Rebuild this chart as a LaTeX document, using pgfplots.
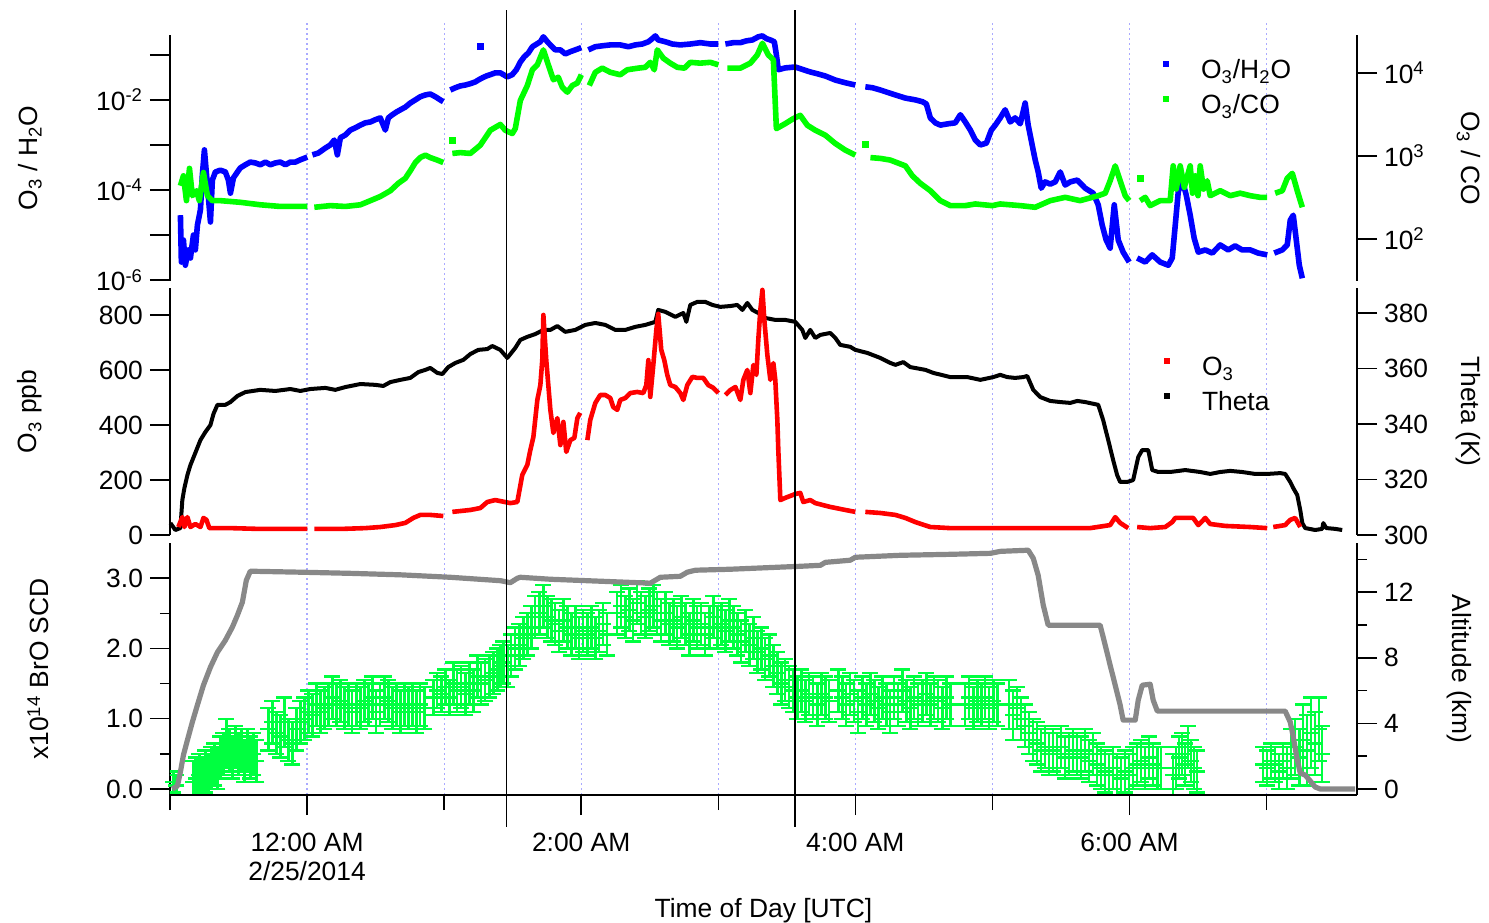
\documentclass[border=0pt]{standalone}
\usepackage{fontspec}
\setmainfont{Liberation Sans}
\usepackage{pgfplots}
\pgfplotsset{compat=1.18}

\definecolor{o3blue}{RGB}{0,0,255}
\definecolor{cogreen}{RGB}{0,255,0}
\definecolor{brogreen}{RGB}{0,255,64}
\definecolor{gridblue}{RGB}{170,170,255}
\definecolor{altgray}{RGB}{136,136,136}
\newcommand{\fs}{\fontsize{13.2}{14.5}\selectfont}

\pgfplotsset{
  panel/.style={
    scale only axis, width=593.5pt, xmin=-1, xmax=7.66,
    axis x line=none, anchor=south west,
    major tick length=10pt, minor tick length=5pt,
    tick style={black, line width=0.75pt},
    tick label style={font=\fs}, label style={font=\fs},
    unbounded coords=jump, clip=false,
  },
  leftax/.style={panel, axis y line=left, tick align=outside,
    axis line style={-, line width=1pt},
    every axis y label/.style={at={(axis description cs:-0.118,0.5)}, rotate=90, anchor=center, font=\fs}},
  rightax/.style={panel, axis y line=right, tick align=outside,
    axis line style={-, line width=1pt},
    every axis y label/.style={at={(axis description cs:1.094,0.5)}, rotate=-90, anchor=center, font=\fs}},
  sqlegend/.style={legend cell align=left,
    legend style={draw=none, fill=none, inner sep=0pt, outer sep=0pt, row sep=1.5pt,
      anchor=north west, font=\fs,
      nodes={inner sep=1pt, text height=10pt, text depth=4pt}},
    legend image code/.code={\fill[##1, draw=none] (0pt,3pt) rectangle (3pt,6pt);
      \path[draw=none, fill=none] (0pt,0pt) -- (18pt,0pt);}},
}

\begin{document}
\begin{tikzpicture}
\path[use as bounding box] (0,0) rectangle (744.5pt,461pt);

% hourly grid, common to the three panels
\begin{axis}[scale only axis, width=593.5pt, height=387pt, at={(85pt,63.5pt)}, anchor=south west,
  xmin=-1, xmax=7.66, ymin=0, ymax=1, xtick={0,...,7}, xticklabels={}, major tick length=0pt,
  ytick=\empty, axis line style={draw=none}, xmajorgrids,
  major grid style={gridblue, line width=0.6pt, dash pattern=on 1pt off 1.5pt}, clip=false]
  \coordinate (vt1) at (axis cs:1.454,1.0142);
  \coordinate (vb1) at (axis cs:1.454,-0.0413);
  \coordinate (vt2) at (axis cs:3.559,1.0142);
  \coordinate (vb2) at (axis cs:3.559,-0.0413);
\end{axis}

% ---------- top panel: O3/H2O (left, log) ----------
\begin{axis}[leftax, height=123pt, at={(85pt,320.5pt)},
  ymin=-6.02, ymax=-0.56, ytick={-6,-4,-2},
  yticklabels={10\textsuperscript{-6},10\textsuperscript{-4},10\textsuperscript{-2}},
  extra y ticks={-5,-3,-1}, extra y tick labels={},
  ylabel={O\textsubscript{3} / H\textsubscript{2}O}]
\addplot[o3blue, line width=2.8pt, line join=round] coordinates {
(-0.924,-4.56) (-0.917,-5.60) (-0.902,-5.11) (-0.888,-5.67) (-0.866,-5.33) (-0.851,-5.51)
(-0.829,-5.00) (-0.815,-5.33) (-0.800,-4.78) (-0.778,-4.44) (-0.764,-3.67) (-0.749,-3.11)
(-0.727,-3.89) (-0.705,-4.71) (-0.691,-3.78) (-0.669,-3.60) (-0.632,-3.56) (-0.596,-3.60)
(-0.574,-3.78) (-0.559,-4.07) (-0.537,-3.73) (-0.508,-3.60) (-0.487,-3.51) (-0.450,-3.44)
(-0.414,-3.38) (-0.377,-3.40) (-0.341,-3.44) (-0.304,-3.38) (-0.268,-3.44) (-0.231,-3.40)
(-0.195,-3.38) (-0.158,-3.44) (-0.122,-3.38) (-0.085,-3.38) (-0.049,-3.33) (0.002,-3.27)
(0.02,nan)
(0.039,-3.22) (0.082,-3.18) (0.133,-3.07) (0.170,-3.00) (0.199,-2.89) (0.221,-3.22)
(0.243,-2.84) (0.279,-2.78) (0.316,-2.67) (0.352,-2.62) (0.389,-2.56) (0.425,-2.51)
(0.462,-2.49) (0.498,-2.44) (0.534,-2.40) (0.571,-2.67) (0.593,-2.40) (0.622,-2.33)
(0.652,-2.27) (0.681,-2.22) (0.717,-2.16) (0.753,-2.07) (0.790,-2.00) (0.826,-1.93)
(0.863,-1.89) (0.899,-1.87) (0.936,-1.93) (0.972,-2.00) (0.994,-2.04)
(1.02,nan)
(1.045,-1.78) (1.082,-1.73) (1.118,-1.69) (1.155,-1.67) (1.191,-1.64) (1.228,-1.60)
(1.249,-1.56) (1.279,-1.51) (1.308,-1.47) (1.337,-1.44) (1.373,-1.40) (1.410,-1.40)
(1.461,-1.49) (1.497,-1.44) (1.527,-1.33) (1.556,-1.16) (1.585,-1.04) (1.614,-0.96)
(1.644,-0.82) (1.665,-0.78) (1.702,-0.71) (1.724,-0.60) (1.753,-0.71) (1.775,-0.78)
(1.811,-0.89) (1.848,-0.89) (1.884,-0.98) (1.921,-0.93) (1.957,-0.89) (2.001,-0.84)
(2.02,nan)
(2.052,-0.89) (2.103,-0.82) (2.154,-0.80) (2.212,-0.78) (2.285,-0.78) (2.344,-0.82)
(2.395,-0.78) (2.446,-0.76) (2.490,-0.71) (2.519,-0.64) (2.541,-0.58) (2.562,-0.67)
(2.614,-0.71) (2.665,-0.76) (2.723,-0.78) (2.796,-0.76) (2.869,-0.73) (2.942,-0.76)
(3.001,-0.76)
(3.02,nan)
(3.052,-0.76) (3.110,-0.73) (3.161,-0.73) (3.205,-0.69) (3.249,-0.67) (3.292,-0.60)
(3.322,-0.58) (3.351,-0.64) (3.380,-0.67) (3.409,-0.71) (3.424,-1.00) (3.438,-1.33)
(3.489,-1.29) (3.562,-1.27) (3.620,-1.33) (3.671,-1.38) (3.723,-1.42) (3.781,-1.47)
(3.854,-1.56) (3.927,-1.62) (4.000,-1.67)
(4.03,nan)
(4.073,-1.71) (4.124,-1.73) (4.182,-1.78) (4.241,-1.84) (4.292,-1.89) (4.365,-1.96)
(4.438,-2.00) (4.489,-2.04) (4.518,-2.09) (4.547,-2.40) (4.584,-2.51) (4.620,-2.56)
(4.678,-2.53) (4.729,-2.51) (4.766,-2.33) (4.802,-2.49) (4.839,-2.67) (4.875,-2.89)
(4.912,-3.00) (4.956,-2.96) (4.992,-2.67) (5.021,-2.56) (5.057,-2.40) (5.093,-2.22)
(5.130,-2.49) (5.166,-2.40) (5.203,-2.53) (5.239,-2.07) (5.261,-2.56) (5.290,-3.00)
(5.312,-3.33) (5.334,-3.60) (5.356,-3.96) (5.385,-3.82) (5.422,-3.87) (5.458,-3.82)
(5.495,-3.60) (5.531,-3.89) (5.568,-3.82) (5.619,-3.78) (5.677,-3.96) (5.735,-4.07)
(5.772,-4.33) (5.801,-4.78) (5.830,-5.11) (5.859,-5.29) (5.889,-4.33) (5.918,-5.11)
(5.954,-5.38) (5.998,-5.60)
(6.03,nan)
(6.056,-5.51) (6.115,-5.60) (6.166,-5.44) (6.224,-5.60) (6.283,-5.67) (6.312,-5.51)
(6.334,-4.78) (6.356,-4.04) (6.385,-3.78) (6.414,-4.11) (6.443,-4.56) (6.472,-5.07)
(6.502,-5.38) (6.553,-5.33) (6.604,-5.40) (6.662,-5.22) (6.720,-5.33) (6.771,-5.24)
(6.822,-5.33) (6.881,-5.33) (6.939,-5.40) (7.005,-5.44)
(7.03,nan)
(7.056,-5.40) (7.115,-5.33) (7.151,-5.22) (7.173,-4.67) (7.195,-4.56) (7.217,-5.11)
(7.239,-5.67) (7.261,-5.96)
};
\addplot[o3blue, only marks, mark=square*, mark size=1.5pt] coordinates {(1.264,-0.82)};
\end{axis}

% ---------- top panel: O3/CO (right, log) ----------
\begin{axis}[rightax, sqlegend, height=123pt, at={(85pt,320.5pt)},
  ymin=1.49, ymax=4.46, ytick={2,3,4},
  yticklabels={10\textsuperscript{2},10\textsuperscript{3},10\textsuperscript{4}},
  ylabel={O\textsubscript{3} / CO},
  legend style={at={(0.8366,0.9106)}}]
\addlegendimage{o3blue}\addlegendentry{O\textsubscript{3}/H\textsubscript{2}O}
\addlegendimage{cogreen}\addlegendentry{O\textsubscript{3}/CO}
\addplot[forget plot, cogreen, line width=2.8pt, line join=round] coordinates {
(-0.924,2.64) (-0.902,2.76) (-0.880,2.46) (-0.858,2.85) (-0.837,2.52) (-0.807,2.58)
(-0.786,2.46) (-0.756,2.80) (-0.727,2.52) (-0.691,2.46) (-0.632,2.46) (-0.487,2.44)
(-0.341,2.41) (-0.195,2.39) (0.002,2.39)
(0.02,nan)
(0.053,2.38) (0.170,2.40) (0.279,2.39) (0.389,2.41) (0.462,2.46) (0.534,2.51)
(0.608,2.58) (0.666,2.67) (0.717,2.73) (0.753,2.82) (0.790,2.92) (0.826,2.98)
(0.863,3.01) (0.899,2.98) (0.950,2.95) (0.994,2.92)
(1.02,nan)
(1.060,3.03) (1.118,3.04) (1.191,3.03) (1.264,3.13) (1.337,3.31) (1.410,3.38)
(1.446,3.31) (1.497,3.27) (1.519,3.33) (1.556,3.67) (1.607,3.85) (1.644,4.04)
(1.680,4.10) (1.724,4.28) (1.760,4.10) (1.797,3.92) (1.833,3.95) (1.862,3.83)
(1.899,3.77) (1.935,3.85) (1.972,3.88) (2.001,3.98)
(2.02,nan)
(2.059,3.85) (2.103,4.01) (2.154,4.06) (2.212,4.01) (2.285,3.98) (2.336,4.04)
(2.416,4.06) (2.468,4.07) (2.504,4.13) (2.533,4.04) (2.555,4.28) (2.599,4.18)
(2.650,4.12) (2.701,4.07) (2.753,4.06) (2.796,4.13) (2.869,4.12) (2.942,4.13)
(3.001,4.10)
(3.02,nan)
(3.066,4.06) (3.161,4.06) (3.234,4.12) (3.285,4.22) (3.322,4.36) (3.365,4.22)
(3.402,4.16) (3.424,3.33) (3.489,3.39) (3.547,3.45) (3.598,3.49) (3.650,3.37)
(3.708,3.31) (3.781,3.25) (3.854,3.15) (3.927,3.07) (4.000,3.01)
(4.03,nan)
(4.110,2.98) (4.182,2.97) (4.255,2.95) (4.365,2.88) (4.416,2.76) (4.474,2.67)
(4.547,2.58) (4.620,2.46) (4.693,2.40) (4.802,2.40) (4.875,2.42) (4.999,2.40)
(5.057,2.42) (5.130,2.41) (5.203,2.40) (5.312,2.38) (5.422,2.46) (5.531,2.50)
(5.640,2.46) (5.772,2.52) (5.823,2.55) (5.859,2.70) (5.896,2.88) (5.932,2.70)
(5.969,2.52) (5.998,2.46)
(6.03,nan)
(6.078,2.46) (6.115,2.50) (6.151,2.40) (6.224,2.46) (6.297,2.46) (6.319,2.88)
(6.341,2.60) (6.370,2.88) (6.400,2.62) (6.443,2.88) (6.460,2.55) (6.480,2.76)
(6.500,2.52) (6.516,2.88) (6.540,2.60) (6.567,2.70) (6.589,2.52) (6.662,2.58)
(6.735,2.52) (6.808,2.55) (6.881,2.52) (6.954,2.50) (7.005,2.50)
(7.03,nan)
(7.063,2.55) (7.115,2.58) (7.151,2.73) (7.188,2.79) (7.224,2.58) (7.246,2.46)
(7.261,2.38)
};
\addplot[forget plot, cogreen, only marks, mark=square*, mark size=1.5pt] coordinates {
(1.060,3.19) (4.073,3.14) (6.078,2.73)};
\end{axis}

% ---------- middle panel: Theta (right) ----------
\begin{axis}[rightax, height=123.5pt, at={(85pt,193.5pt)},
  ymin=300, ymax=389, ytick={300,320,340,360,380},
  yticklabels={300,320,340,360,380}, ylabel={Theta (K)}]
\addplot[black, line width=2pt, line join=round] coordinates {
(-0.997,304.3) (-0.961,301.8) (-0.924,302.5) (-0.910,312.6) (-0.895,316.9) (-0.873,321.6)
(-0.851,325.2) (-0.815,329.6) (-0.778,334.2) (-0.742,337.1) (-0.705,339.6) (-0.683,343.6)
(-0.654,346.9) (-0.596,346.9) (-0.559,347.9) (-0.508,350.1) (-0.450,351.5) (-0.341,352.3)
(-0.231,351.9) (-0.122,352.6) (-0.049,351.9) (0.024,352.6) (0.133,353.0) (0.206,352.3)
(0.279,353.3) (0.389,354.4) (0.498,354.1) (0.556,353.7) (0.608,355.1) (0.681,355.9)
(0.753,356.6) (0.812,358.7) (0.863,359.5) (0.899,360.2) (0.950,358.4) (0.987,358.0)
(1.030,360.5) (1.082,362.0) (1.140,363.1) (1.191,365.2) (1.249,366.7) (1.315,367.0)
(1.351,368.1) (1.410,366.7) (1.461,363.8) (1.519,367.4) (1.556,370.3) (1.607,371.4)
(1.665,372.4) (1.724,373.9) (1.775,373.9) (1.826,375.3) (1.884,373.2) (1.957,373.9)
(2.030,375.7) (2.103,376.4) (2.176,375.7) (2.249,373.9) (2.322,373.9) (2.395,375.0)
(2.468,375.7) (2.541,376.8) (2.562,381.1) (2.614,380.4) (2.687,378.6) (2.745,380.0)
(2.767,376.8) (2.796,382.9) (2.847,384.0) (2.905,384.0) (2.957,382.9) (3.015,382.2)
(3.088,382.5) (3.139,382.9) (3.176,381.1) (3.212,383.6) (3.249,381.1) (3.292,380.0)
(3.343,378.2) (3.416,377.5) (3.489,377.5) (3.562,376.8) (3.613,373.9) (3.635,371.0)
(3.671,373.9) (3.708,371.0) (3.745,372.1) (3.817,372.8) (3.854,371.0) (3.890,368.5)
(3.963,367.8) (4.000,366.7) (4.088,365.6) (4.182,363.8) (4.255,362.0) (4.292,361.3)
(4.350,362.3) (4.401,360.5) (4.511,359.5) (4.569,358.4) (4.693,356.9) (4.817,356.9)
(4.912,355.9) (5.007,356.9) (5.057,357.7) (5.108,356.9) (5.166,356.6) (5.225,356.9)
(5.254,357.3) (5.298,352.3) (5.349,349.7) (5.422,348.3) (5.495,347.9) (5.568,347.6)
(5.619,348.3) (5.677,347.9) (5.772,346.9) (5.808,341.4) (5.845,334.2) (5.881,327.0)
(5.910,321.6) (5.932,319.1) (5.983,319.1) (6.027,319.8) (6.064,328.1) (6.093,330.6)
(6.137,330.6) (6.166,323.4) (6.210,322.7) (6.297,322.7) (6.407,323.4) (6.516,322.7)
(6.589,322.0) (6.662,322.7) (6.735,323.1) (6.822,322.7) (6.917,322.0) (7.005,322.0)
(7.100,322.3) (7.136,322.0) (7.173,319.1) (7.195,316.9) (7.224,314.4) (7.246,309.0)
(7.261,304.3) (7.282,302.5) (7.355,301.8) (7.406,302.2) (7.414,304.3) (7.436,302.5)
(7.501,302.2) (7.552,301.8)
};
\end{axis}

% ---------- middle panel: O3 ppb (left) ----------
\begin{axis}[leftax, sqlegend, height=123.5pt, at={(85pt,193.5pt)},
  ymin=0, ymax=898, ytick={0,200,400,600,800},
  yticklabels={0,200,400,600,800}, ylabel={O\textsubscript{3} ppb},
  legend style={at={(0.8374,0.7328)}}]
\addlegendimage{red}\addlegendentry{O\textsubscript{3}}
\addlegendimage{black}\addlegendentry{Theta}
\addplot[forget plot, red, line width=2.3pt, line join=round] coordinates {
(-0.939,29) (-0.910,65) (-0.895,29) (-0.873,65) (-0.851,29) (-0.815,40) (-0.778,29)
(-0.756,62) (-0.734,55) (-0.713,25) (-0.559,25) (-0.341,22) (0.002,22)
(0.02,nan)
(0.053,22) (0.243,22) (0.425,25) (0.534,29) (0.644,36) (0.717,44) (0.775,62)
(0.826,73) (0.899,73) (0.994,69)
(1.02,nan)
(1.060,84) (1.191,91) (1.264,98) (1.315,120) (1.373,127) (1.483,116) (1.534,120)
(1.570,218) (1.607,255) (1.629,309) (1.651,356) (1.680,491) (1.702,545) (1.716,636)
(1.724,800) (1.745,636) (1.775,455) (1.797,371) (1.826,425) (1.848,327) (1.870,411)
(1.891,302) (1.921,345) (1.950,353) (1.972,425) (1.993,444)
(2.01,nan)
(2.045,345) (2.066,418) (2.103,480) (2.139,509) (2.176,509) (2.212,498) (2.234,465)
(2.263,455) (2.285,491) (2.322,498) (2.358,516) (2.409,520) (2.453,516) (2.475,545)
(2.490,636) (2.504,502) (2.526,618) (2.548,745) (2.562,804) (2.584,673) (2.606,636)
(2.628,582) (2.650,545) (2.687,538) (2.723,516) (2.745,491) (2.774,545) (2.811,575)
(2.847,571) (2.891,571) (2.927,545) (2.964,535) (3.001,516)
(3.02,nan)
(3.052,509) (3.088,527) (3.125,538) (3.161,491) (3.183,564) (3.212,600) (3.234,516)
(3.256,618) (3.278,582) (3.292,709) (3.307,818) (3.322,891) (3.336,782) (3.358,655)
(3.380,564) (3.402,625) (3.416,564) (3.431,418) (3.438,309) (3.453,127) (3.489,135)
(3.562,149) (3.598,153) (3.620,120) (3.671,127) (3.708,116) (3.817,102) (3.927,91)
(4.000,84)
(4.03,nan)
(4.073,84) (4.182,80) (4.292,73) (4.365,62) (4.438,47) (4.547,29) (4.693,25)
(4.985,25) (5.422,25) (5.713,25) (5.859,36) (5.896,65) (5.932,44) (5.991,25)
(6.02,nan)
(6.056,29) (6.151,25) (6.261,29) (6.312,47) (6.334,62) (6.407,62) (6.465,62)
(6.502,36) (6.553,62) (6.589,40) (6.698,33) (6.881,29) (7.005,25)
(7.03,nan)
(7.049,29) (7.136,36) (7.173,55) (7.209,62) (7.246,29)
};
\end{axis}

% ---------- bottom panel: BrO SCD (left) ----------
\begin{axis}[leftax, height=126pt, at={(85pt,63.5pt)}, clip=true,
  ymin=-0.085, ymax=3.5, ytick={0,1,2,3}, yticklabels={0.0,1.0,2.0,3.0},
  minor ytick={0.5,1.5,2.5},
  ylabel={x10\textsuperscript{14} BrO SCD},
  every axis y label/.append style={at={(axis description cs:-0.111,0.5)}}]
\addplot[brogreen, only marks, mark=-, mark size=4pt, mark options={line width=1.2pt},
  error bars/.cd, y dir=both, y explicit, error bar style={line width=1.2pt},
  error mark options={rotate=90, mark size=4pt, line width=1.2pt}]
  table[x=x, y=y, y error=e] {
x y e
-0.975 0.10 0.15
-0.953 0.05 0.15
-0.829 0.10 0.30
-0.807 0.15 0.30
-0.786 0.20 0.30
-0.764 0.12 0.30
-0.742 0.25 0.30
-0.720 0.20 0.30
-0.698 0.30 0.30
-0.676 0.35 0.30
-0.654 0.30 0.30
-0.632 0.45 0.30
-0.610 0.50 0.30
-0.589 0.65 0.35
-0.567 0.55 0.30
-0.545 0.45 0.30
-0.523 0.60 0.30
-0.501 0.50 0.30
-0.479 0.55 0.30
-0.457 0.40 0.30
-0.435 0.55 0.30
-0.414 0.45 0.30
-0.392 0.50 0.30
-0.370 0.40 0.30
-0.282 0.85 0.30
-0.253 0.95 0.30
-0.224 0.80 0.30
-0.195 0.75 0.30
-0.166 0.95 0.35
-0.136 0.70 0.30
-0.107 0.65 0.30
-0.078 0.85 0.30
-0.049 0.95 0.30
-0.020 1.00 0.30
0.009 1.10 0.30
0.039 1.05 0.30
0.068 1.20 0.30
0.097 1.10 0.30
0.126 1.15 0.30
0.155 1.20 0.30
0.185 1.30 0.30
0.214 1.20 0.30
0.243 1.25 0.30
0.272 1.15 0.30
0.301 1.20 0.30
0.330 1.10 0.30
0.360 1.20 0.30
0.389 1.15 0.30
0.418 1.25 0.30
0.447 1.20 0.30
0.476 1.30 0.30
0.505 1.10 0.30
0.534 1.20 0.30
0.564 1.30 0.30
0.593 1.25 0.30
0.622 1.15 0.30
0.652 1.20 0.30
0.681 1.10 0.30
0.710 1.20 0.30
0.739 1.15 0.30
0.768 1.20 0.30
0.797 1.10 0.30
0.826 1.20 0.30
0.856 1.15 0.30
0.921 1.30 0.25
0.950 1.40 0.25
0.980 1.35 0.25
1.009 1.45 0.25
1.038 1.30 0.25
1.067 1.50 0.30
1.096 1.40 0.30
1.125 1.45 0.30
1.155 1.35 0.30
1.184 1.50 0.30
1.213 1.40 0.30
1.242 1.60 0.30
1.271 1.50 0.30
1.300 1.55 0.30
1.330 1.60 0.30
1.359 1.65 0.30
1.388 1.70 0.30
1.410 1.75 0.30
1.432 1.80 0.30
1.461 1.75 0.30
1.490 1.90 0.30
1.519 2.00 0.30
1.549 2.05 0.30
1.578 2.15 0.30
1.607 2.20 0.30
1.636 2.30 0.30
1.665 2.45 0.30
1.695 2.50 0.30
1.724 2.60 0.30
1.753 2.45 0.30
1.782 2.40 0.30
1.811 2.35 0.30
1.840 2.25 0.30
1.870 2.40 0.30
1.899 2.30 0.30
1.928 2.20 0.30
1.957 2.30 0.30
1.986 2.15 0.30
2.015 2.25 0.30
2.045 2.20 0.30
2.074 2.30 0.30
2.103 2.15 0.30
2.132 2.25 0.30
2.161 2.35 0.30
2.190 2.20 0.30
2.263 2.50 0.30
2.292 2.60 0.30
2.322 2.45 0.30
2.351 2.55 0.30
2.380 2.40 0.30
2.409 2.65 0.30
2.438 2.50 0.30
2.468 2.45 0.30
2.497 2.55 0.30
2.526 2.60 0.30
2.555 2.50 0.30
2.584 2.40 0.30
2.614 2.50 0.30
2.643 2.35 0.30
2.672 2.40 0.30
2.701 2.30 0.30
2.731 2.45 0.30
2.760 2.35 0.30
2.789 2.20 0.30
2.818 2.40 0.30
2.847 2.30 0.30
2.876 2.35 0.30
2.905 2.20 0.30
2.935 2.30 0.30
2.964 2.45 0.30
2.993 2.30 0.30
3.023 2.35 0.30
3.052 2.25 0.30
3.081 2.40 0.30
3.110 2.30 0.30
3.139 2.20 0.30
3.168 2.10 0.30
3.198 2.25 0.30
3.227 2.05 0.30
3.256 2.15 0.30
3.285 1.95 0.30
3.314 2.00 0.30
3.343 1.85 0.30
3.373 1.90 0.30
3.402 1.75 0.30
3.431 1.65 0.30
3.460 1.50 0.30
3.489 1.55 0.30
3.518 1.45 0.30
3.547 1.40 0.30
3.577 1.30 0.30
3.606 1.40 0.30
3.635 1.25 0.30
3.664 1.35 0.30
3.693 1.30 0.30
3.723 1.20 0.30
3.752 1.35 0.30
3.781 1.30 0.30
3.810 1.25 0.30
3.876 1.40 0.30
3.905 1.30 0.30
3.934 1.20 0.30
3.963 1.35 0.30
3.992 1.25 0.30
4.021 1.10 0.30
4.051 1.30 0.30
4.080 1.20 0.30
4.110 1.35 0.30
4.139 1.25 0.30
4.168 1.15 0.30
4.197 1.30 0.30
4.226 1.20 0.30
4.255 1.10 0.30
4.284 1.30 0.30
4.313 1.20 0.30
4.343 1.40 0.30
4.372 1.25 0.30
4.401 1.15 0.30
4.430 1.30 0.30
4.459 1.20 0.30
4.489 1.25 0.30
4.518 1.35 0.30
4.547 1.20 0.30
4.576 1.30 0.30
4.605 1.25 0.30
4.635 1.15 0.30
4.664 1.30 0.30
4.693 1.20 0.30
4.802 1.20 0.30
4.831 1.30 0.30
4.861 1.15 0.30
4.890 1.25 0.30
4.919 1.20 0.30
4.948 1.30 0.30
4.977 1.15 0.30
5.007 1.25 0.30
5.036 1.20 0.30
5.123 1.20 0.35
5.152 1.05 0.35
5.181 1.15 0.30
5.210 1.00 0.30
5.239 0.90 0.30
5.269 0.80 0.30
5.298 0.70 0.30
5.327 0.65 0.30
5.356 0.55 0.30
5.385 0.60 0.30
5.414 0.50 0.30
5.444 0.55 0.30
5.473 0.50 0.30
5.502 0.60 0.30
5.531 0.45 0.30
5.560 0.50 0.30
5.589 0.55 0.30
5.619 0.50 0.30
5.648 0.45 0.30
5.677 0.55 0.30
5.706 0.40 0.30
5.735 0.50 0.30
5.764 0.35 0.30
5.794 0.30 0.30
5.823 0.25 0.30
5.852 0.20 0.30
5.881 0.30 0.30
5.910 0.20 0.30
5.940 0.15 0.30
5.969 0.25 0.30
5.998 0.20 0.30
6.027 0.30 0.30
6.056 0.35 0.30
6.086 0.40 0.30
6.115 0.30 0.30
6.144 0.45 0.30
6.173 0.35 0.30
6.203 0.30 0.30
6.232 0.30 0.30
6.319 0.20 0.30
6.341 0.30 0.30
6.363 0.45 0.30
6.385 0.50 0.30
6.407 0.35 0.30
6.429 0.60 0.30
6.450 0.40 0.30
6.472 0.30 0.30
6.494 0.25 0.30
6.976 0.35 0.25
7.005 0.30 0.25
7.034 0.40 0.25
7.063 0.35 0.25
7.093 0.25 0.25
7.122 0.40 0.25
7.151 0.30 0.30
7.180 0.50 0.35
7.209 0.60 0.40
7.239 0.45 0.40
7.268 0.70 0.50
7.297 0.55 0.50
7.326 0.80 0.50
7.355 0.65 0.45
7.384 0.85 0.45
7.406 0.50 0.40
};
\end{axis}

% ---------- bottom panel: Altitude (right) ----------
\begin{axis}[rightax, height=126pt, at={(85pt,63.5pt)},
  ymin=-0.365, ymax=15, ytick={0,4,8,12}, yticklabels={0,4,8,12},
  minor ytick={2,6,10,14}, ylabel={Altitude (km)},
  every axis y label/.append style={at={(axis description cs:1.0864,0.5)}}]
\addplot[altgray, line width=2.6pt, line join=round] coordinates {
(-0.983,0) (-0.946,0.18) (-0.924,1.04) (-0.902,2.07) (-0.873,2.98) (-0.837,4.08)
(-0.800,5.12) (-0.756,6.33) (-0.705,7.43) (-0.654,8.34) (-0.596,9.07) (-0.545,9.87)
(-0.508,10.60) (-0.472,11.39) (-0.443,12.73) (-0.414,13.28) (-0.049,13.22) (0.316,13.15)
(0.681,13.06) (1.045,12.91) (1.413,12.70) (1.483,12.58) (1.534,12.85) (1.556,12.91)
(1.775,12.79) (2.139,12.67) (2.504,12.55) (2.541,12.73) (2.577,12.91) (2.723,12.97)
(2.774,13.22) (2.833,13.34) (3.088,13.40) (3.598,13.58) (3.745,13.64) (3.781,13.82)
(3.963,13.95) (4.000,14.13) (4.328,14.25) (4.693,14.31) (4.985,14.37) (5.057,14.49)
(5.261,14.56) (5.298,14.07) (5.334,13.03) (5.371,11.21) (5.407,9.99) (5.786,9.99)
(5.823,8.77) (5.859,7.55) (5.896,6.33) (5.932,5.12) (5.954,4.20) (6.042,4.20)
(6.064,5.42) (6.093,6.33) (6.151,6.39) (6.173,5.42) (6.203,4.75) (7.136,4.75)
(7.173,4.08) (7.195,3.17) (7.224,1.77) (7.246,0.97) (7.282,0.85) (7.319,0.49)
(7.355,0.12) (7.392,0) (7.647,0)
};
\end{axis}

% ---------- time axis ----------
\begin{axis}[scale only axis, width=593.5pt, height=126pt, at={(85pt,63.5pt)}, anchor=south west,
  xmin=-1, xmax=7.66, ymin=0, ymax=1,
  axis x line=bottom, axis y line=none, tick align=outside,
  axis line style={-, line width=1pt},
  xtick={0,2,4,6}, minor xtick={-1,1,3,5,7},
  xticklabels={{12:00 AM\\2/25/2014},{2:00 AM},{4:00 AM},{6:00 AM}},
  xticklabel style={align=center, font=\fs, yshift=-5.5pt},
  major tick length=10pt, minor tick length=7.5pt,
  tick style={black, line width=0.75pt},
  xlabel={Time of Day [UTC]},
  every axis x label/.style={at={(axis description cs:0.5,0)}, anchor=north, yshift=-48pt, font=\fs}]
\end{axis}

\draw[black, line width=0.8pt] (vb1) -- (vt1);
\draw[black, line width=0.8pt] (vb2) -- (vt2);
\end{tikzpicture}
\end{document}
